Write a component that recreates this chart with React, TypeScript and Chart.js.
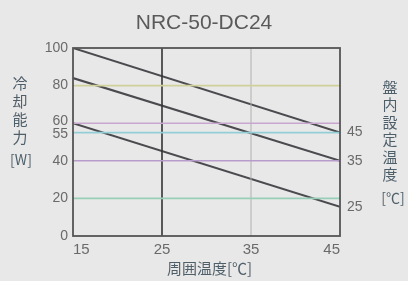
import React, { useEffect, useRef } from "react";
import { Chart, registerables } from "chart.js";

Chart.register(...registerables);

const chartTitle = "NRC-50-DC24";
const xTicks = [15, 25, 35, 45];
const yTicks = [0, 20, 40, 55, 60, 80, 100];
const setTemps = ["45", "35", "25"];
const capacityAt15 = [100, 84, 60];
const capacityAt45 = [55, 40, 15.5];
const refLevels = [80, 60, 55, 40, 20];
const refColors = ["#cfd09a", "#c9a6cf", "#93cdd6", "#b79ccb", "#98cdb8"];
const verticalMarks = [25, 35];
const verticalColors = ["#333333", "#b0b0b0"];
const leftTitle = ["冷", "却", "能", "力"];
const leftUnit = "[W]";
const rightTitle = ["盤", "内", "設", "定", "温", "度"];
const rightUnit = "[℃]";
const xTitle = "周囲温度[℃]";

const NUM_FONT = "'Liberation Sans', Arial, sans-serif";
const CJK_FONT = "'Noto Sans CJK JP', 'Noto Sans', sans-serif";

export default function App() {
  const ref = useRef<HTMLCanvasElement | null>(null);

  useEffect(() => {
    document.body.style.margin = "0";
    document.body.style.background = "#e8e8e8";
    const canvas = ref.current;
    if (!canvas) return;

    const xMin = xTicks[0];
    const xMax = xTicks[xTicks.length - 1];

    const datasets: any[] = [];
    refLevels.forEach((v, i) => {
      datasets.push({
        data: [
          { x: xMin, y: v },
          { x: xMax, y: v },
        ],
        borderColor: refColors[i],
        borderWidth: 1.6,
        pointRadius: 0,
        yAxisID: "y",
      });
    });
    verticalMarks.forEach((v, i) => {
      datasets.push({
        data: [
          { x: v, y: yTicks[0] },
          { x: v, y: yTicks[yTicks.length - 1] },
        ],
        borderColor: verticalColors[i],
        borderWidth: i === 0 ? 1.6 : 1,
        pointRadius: 0,
        yAxisID: "y",
      });
    });
    capacityAt15.forEach((v, i) => {
      datasets.push({
        data: [
          { x: xMin, y: v },
          { x: xMax, y: capacityAt45[i] },
        ],
        borderColor: "#4a4a4f",
        borderWidth: 2,
        pointRadius: 0,
        yAxisID: "y",
      });
    });

    const decor = {
      id: "decor",
      afterDraw(chart: any) {
        const { ctx, chartArea } = chart;
        const ys = chart.scales.y;
        ctx.save();
        // frame
        ctx.strokeStyle = "#555555";
        ctx.lineWidth = 1.8;
        ctx.strokeRect(
          chartArea.left,
          chartArea.top,
          chartArea.right - chartArea.left,
          chartArea.bottom - chartArea.top
        );
        // title
        ctx.fillStyle = "#5a5a5a";
        ctx.font = `21px ${NUM_FONT}`;
        ctx.textAlign = "center";
        ctx.textBaseline = "middle";
        ctx.fillText(chartTitle, chart.width / 2, 23);

        // left tick labels with collision nudge
        const pos = yTicks.map((v) => ys.getPixelForValue(v));
        const adj = pos.slice();
        const minGap = 13;
        for (let k = 0; k < 5; k++) {
          for (let i = 0; i < adj.length - 1; i++) {
            const a = adj[i];
            const b = adj[i + 1];
            const d = a - b;
            if (Math.abs(d) < minGap) {
              const push = (minGap - Math.abs(d)) / 2;
              adj[i] += push;
              adj[i + 1] -= push;
            }
          }
        }
        ctx.font = `14px ${NUM_FONT}`;
        ctx.fillStyle = "#6a6a6a";
        ctx.textAlign = "right";
        yTicks.forEach((v, i) => {
          ctx.fillText(String(v), chartArea.left - 5, adj[i]);
        });

        // left axis title
        ctx.fillStyle = "#4f5f6a";
        ctx.textAlign = "center";
        ctx.font = `15px ${CJK_FONT}`;
        leftTitle.forEach((c, i) => {
          ctx.fillText(c, 20, 83 + i * 18);
        });
        ctx.font = `14px ${CJK_FONT}`;
        ctx.fillText(leftUnit, 21, 160);

        // right axis title
        ctx.font = `15px ${CJK_FONT}`;
        rightTitle.forEach((c, i) => {
          ctx.fillText(c, 390, 87 + i * 17.5);
        });
        ctx.font = `14px ${CJK_FONT}`;
        ctx.fillText(rightUnit, 393, 198);

        // x axis title
        ctx.font = `15px ${CJK_FONT}`;
        ctx.fillText(xTitle, (chartArea.left + chartArea.right) / 2 + 3, 268);
        ctx.restore();
      },
    };

    const chart = new Chart(canvas, {
      type: "line",
      data: { datasets },
      options: {
        animation: false,
        responsive: false,
        maintainAspectRatio: false,
        layout: { padding: { top: 48, left: 0, right: 0, bottom: 0 } },
        plugins: {
          legend: { display: false },
          tooltip: { enabled: false },
          title: { display: false },
        },
        scales: {
          x: {
            type: "linear",
            min: xMin,
            max: xMax,
            afterBuildTicks: (s: any) => {
              s.ticks = xTicks.map((v) => ({ value: v }));
            },
            grid: { display: false, drawTicks: false },
            border: { display: false },
            ticks: {
              align: "inner",
              padding: 5,
              color: "#6a6a6a",
              font: { family: NUM_FONT, size: 15 },
            },
            afterFit: (s: any) => {
              s.height = 45;
            },
          },
          y: {
            type: "linear",
            min: yTicks[0],
            max: yTicks[yTicks.length - 1],
            position: "left",
            grid: { display: false, drawTicks: false },
            border: { display: false },
            ticks: { display: false },
            afterFit: (s: any) => {
              s.width = 73;
            },
          },
          y2: {
            type: "linear",
            min: yTicks[0],
            max: yTicks[yTicks.length - 1],
            position: "right",
            afterBuildTicks: (s: any) => {
              s.ticks = capacityAt45.map((v) => ({ value: v }));
            },
            grid: { display: false, drawTicks: false },
            border: { display: false },
            ticks: {
              padding: 7,
              color: "#6a6a6a",
              font: { family: NUM_FONT, size: 14 },
              callback: (_v: any, i: number) => setTemps[i],
            },
            afterFit: (s: any) => {
              s.width = 68;
            },
          },
        },
      } as any,
      plugins: [decor],
    });

    return () => chart.destroy();
  }, []);

  return (
    <div style={{ width: 408, height: 281, background: "#e8e8e8" }}>
      <canvas ref={ref} width={408} height={281} style={{ display: "block" }} />
    </div>
  );
}
